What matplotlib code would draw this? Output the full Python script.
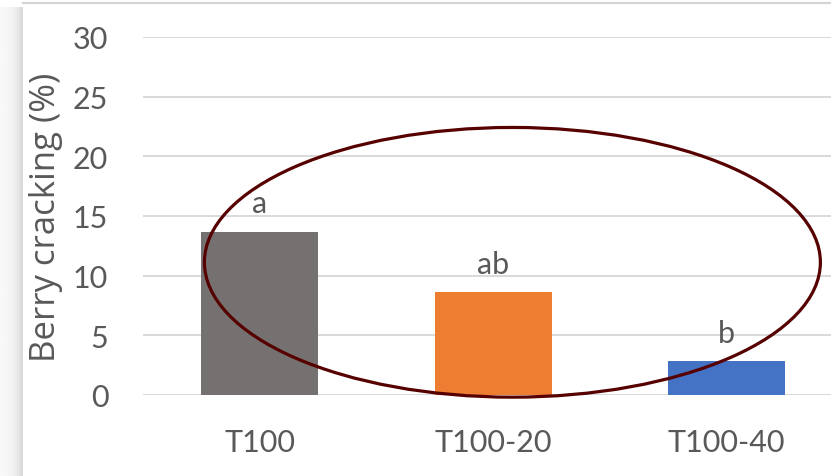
import numpy as np
import matplotlib
matplotlib.use("Agg")
import matplotlib.pyplot as plt
from matplotlib.patches import Ellipse

# Berry cracking per irrigation treatment
treatments = ["T100", "T100-20", "T100-40"]
cracking = [13.7, 8.6, 2.85]
letters = ["a", "ab", "b"]
bar_colors = ["#767171", "#ED7D31", "#4472C4"]
y_ticks = [0, 5, 10, 15, 20, 25, 30]

plt.rcParams["font.family"] = ["Lato", "DejaVu Sans"]
text_color = "#595959"

W, H, DPI = 831, 477, 100
fig = plt.figure(figsize=(W / DPI, H / DPI), dpi=DPI)
fig.patch.set_facecolor("white")

# left panel shadow and top border
shadow = fig.add_axes([0, 0, 23 / W, 1 - 8 / H])
grad = np.linspace(0.0, 1.0, 64)
shade = 0.97 - 0.13 * grad ** 3
shadow.imshow(np.tile(shade, (2, 1)), cmap="gray", vmin=0, vmax=1,
              aspect="auto", extent=[0, 1, 0, 1])
shadow.axis("off")
fig.add_artist(plt.Line2D([23 / W, 1], [1 - 3.5 / H, 1 - 3.5 / H],
                          transform=fig.transFigure, color="#d4d4d4", lw=1.6))

left, right = 143 / W, 843.5 / W
bottom, top = 81 / H, (H - 38) / H
ax = fig.add_axes([left, bottom, right - left, top - bottom])

x = np.arange(len(treatments))
ax.bar(x, cracking, width=0.5, color=bar_colors, zorder=2)
ax.set_xlim(-0.5, len(treatments) - 0.5)
ax.set_ylim(0, 30)
ax.set_yticks(y_ticks)
ax.set_xticks(x)
ax.set_xticklabels(treatments)
ax.yaxis.grid(True, color="#d9d9d9", lw=1.4, zorder=0)
ax.set_axisbelow(True)
for s in ax.spines.values():
    s.set_visible(False)
ax.tick_params(axis="both", length=0, labelsize=22, colors=text_color)
ax.tick_params(axis="y", pad=25)
ax.tick_params(axis="x", pad=24)

ax.set_ylabel("Berry cracking (%)", fontsize=25, color=text_color,
              family=["Open Sans", "DejaVu Sans"])
ax.yaxis.set_label_coords(-(143 - 63) / 700.5, 0.5)

for xi, v, lab in zip(x, cracking, letters):
    ax.annotate(lab, (xi, v), xytext=(0, 14), textcoords="offset points",
                ha="center", va="baseline", fontsize=22, color=text_color)

# highlight ring around the treatment bars
ring = Ellipse((1.082, 11.12), 2.638, 22.6, fill=False,
               edgecolor="#560000", lw=2.3, zorder=4, clip_on=False)
ax.add_patch(ring)

fig.savefig("out.png", dpi=DPI, facecolor="white")
